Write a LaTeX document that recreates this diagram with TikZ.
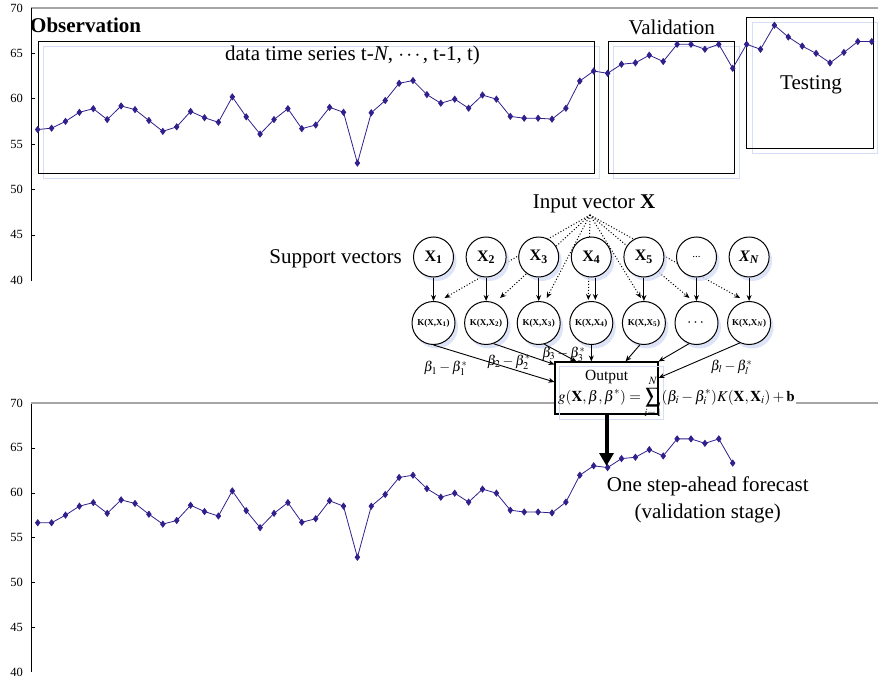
\documentclass[tikz,border=0pt]{standalone}
\usepackage{mathptmx}
\usepackage{amsmath}
\usepackage{fontspec}
\setmainfont{Liberation Serif}
\usetikzlibrary{positioning,shadows,plotmarks,arrows.meta}

\definecolor{serie}{RGB}{48,32,140}
\definecolor{halo}{RGB}{214,221,246}

\tikzset{
  sv/.style={circle,draw,fill=white,line width=1pt,minimum size=40pt,inner sep=0pt,
    drop shadow={fill=halo,opacity=.8,shadow xshift=3pt,shadow yshift=-4pt}},
  kv/.style={sv,minimum size=43pt,font=\fontsize{9}{9}\selectfont\bfseries},
  lbl/.style={inner sep=0pt,font=\fontsize{21}{26.6}\selectfont},
  ytick/.style={anchor=east,inner sep=0pt,font=\fontsize{12.5}{14}\selectfont},
  series/.style={serie,line width=.8pt,mark=diamond*,mark size=3pt,mark options={fill=serie}},
  dot/.style={dotted,->,line width=1pt},
}

\begin{document}
\begin{tikzpicture}[x=1pt,y=-1pt,>={Stealth[length=6pt,width=5pt]}]
\useasboundingbox (0,0) rectangle (878,679);

% upper chart
\draw[gray!70,line width=1.2pt] (31,8) -- (878,8);
\draw[line width=1pt] (31,8) -- (31,281);
\draw (31,53.4)--(35,53.4) (31,98.7)--(35,98.7) (31,144.1)--(35,144.1) (31,189.4)--(35,189.4) (31,234.8)--(35,234.8);
\node[ytick] (a70) at (23,8) {70};
\node[ytick] (a65) at (23,53.4) {65};
\node[ytick] (a60) at (23,98.7) {60};
\node[ytick] (a55) at (23,144.1) {55};
\node[ytick] (a50) at (23,189.4) {50};
\node[ytick] (a45) at (23,234.8) {45};
\node[ytick] (a40) at (23,280.1) {40};

\draw[halo] (43.3,46.7) rectangle (599.3,178) (613.3,46.7) rectangle (739.3,178) (751.7,22.3) rectangle (877.5,153.3);
\draw[line width=.8pt] (38.3,41.7) rectangle (594.3,173) (608.3,41.7) rectangle (734.3,173) (746.7,17.3) rectangle (873.3,148.3);
\node[lbl,anchor=base west] (obs) at (30,33) {\textbf{Observation}};
\node[lbl,anchor=base] (train) at (352.5,61) {data time series t-\textit{N}, $\cdots$, t-1, t)};
\node[lbl,anchor=base] (valid) at (671.7,35) {Validation};
\node[lbl,anchor=base] (test) at (811,90) {Testing};

\begin{scope}[x=13.9pt,y=9.07pt,shift={(23.8pt,-642.9pt)}]
\draw[series] plot coordinates {(1,56.6) (2,56.75) (3,57.5) (4,58.5) (5,58.9) (6,57.7) (7,59.2) (8,58.8) (9,57.6) (10,56.4)
 (11,56.9) (12,58.6) (13,57.9) (14,57.4) (15,60.2) (16,58.0) (17,56.1) (18,57.7) (19,58.9) (20,56.7)
 (21,57.1) (22,59.05) (23,58.5) (24,52.9) (25,58.45) (26,59.8) (27,61.7) (28,62.0) (29,60.45) (30,59.5)
 (31,59.95) (32,58.95) (33,60.4) (34,59.95) (35,58.05) (36,57.85) (37,57.85) (38,57.75) (39,58.95) (40,61.95)
 (41,63.05) (42,62.8) (43,63.8) (44,63.95) (45,64.8) (46,64.1) (47,66.0) (48,66.0) (49,65.45) (50,66.0)
 (51,63.35) (52,66.0) (53,65.45) (54,68.1) (55,66.8) (56,65.8) (57,65.0) (58,63.95) (59,65.1) (60,66.3) (61,66.3)};
\end{scope}

% lower chart
\coordinate (g70) at (31,403);
\draw[line width=1pt] (g70) -- (31,672);
\draw (31,447.9)--(35,447.9) (31,492.7)--(35,492.7) (31,537.6)--(35,537.6) (31,582.4)--(35,582.4) (31,627.3)--(35,627.3);
\node[ytick] (b70) at (23,403) {70};
\node[ytick] (b65) at (23,447.9) {65};
\node[ytick] (b60) at (23,492.7) {60};
\node[ytick] (b55) at (23,537.6) {55};
\node[ytick] (b50) at (23,582.4) {50};
\node[ytick] (b45) at (23,627.3) {45};
\node[ytick] (b40) at (23,672.1) {40};

\begin{scope}[x=13.9pt,y=8.97pt,shift={(23.8pt,-1030.9pt)}]
\draw[series] plot coordinates {(1,56.65) (2,56.65) (3,57.5) (4,58.5) (5,58.9) (6,57.7) (7,59.2) (8,58.8) (9,57.6) (10,56.5)
 (11,56.9) (12,58.6) (13,57.9) (14,57.4) (15,60.2) (16,58.0) (17,56.1) (18,57.7) (19,58.9) (20,56.7)
 (21,57.1) (22,59.1) (23,58.5) (24,52.8) (25,58.5) (26,59.8) (27,61.7) (28,61.95) (29,60.45) (30,59.5)
 (31,59.95) (32,58.95) (33,60.4) (34,59.95) (35,58.05) (36,57.85) (37,57.85) (38,57.75) (39,58.95) (40,61.95)
 (41,63.0) (42,62.8) (43,63.8) (44,63.95) (45,64.8) (46,64.1) (47,66.0) (48,66.0) (49,65.5) (50,66.0) (51,63.3)};
\end{scope}

% kernel layer
\node[kv] (K1) at (433.5,323) {K(X,X\textsubscript{1})};
\node[kv] (K2) at (486.1,323) {K(X,X\textsubscript{2})};
\node[kv] (K3) at (538.7,323) {K(X,X\textsubscript{3})};
\node[kv] (K4) at (591.3,323) {K(X,X\textsubscript{4})};
\node[kv] (K5) at (643.9,323) {K(X,X\textsubscript{5})};
\node[kv,font=\fontsize{16}{16}\selectfont\bfseries] (K6) at (696.5,323) {$\boldsymbol{\cdots}$};
\node[kv] (K7) at (749.1,323) {K(X,X\textsubscript{\textit{N}})};

\node[lbl,anchor=base] (invec) at (594,209) {Input vector \textbf{X}};
\coordinate (inp) at (590,215);
\draw[dot] (inp) -- ([xshift=11pt,yshift=3pt]K1.north);
\draw[dot] (inp) -- ([xshift=14pt,yshift=3pt]K2.north);
\draw[dot] (inp) -- ([xshift=8pt,yshift=3pt]K3.north);
\draw[dot] (inp) -- ([xshift=-3pt,yshift=1pt]K4.north);
\draw[dot] (inp) -- ([xshift=-3pt,yshift=3pt]K5.north);
\draw[dot] (inp) -- ([xshift=-7pt,yshift=3pt]K6.north);
\draw[dot] (inp) -- ([xshift=-9pt,yshift=3pt]K7.north);

% support vector layer
\node[sv,font=\fontsize{16}{16}\selectfont\bfseries] (X1) at (433.5,257) {X\textsubscript{1}};
\node[sv,font=\fontsize{16}{16}\selectfont\bfseries] (X2) at (486.1,257) {X\textsubscript{2}};
\node[sv,font=\fontsize{16}{16}\selectfont\bfseries] (X3) at (538.7,257) {X\textsubscript{3}};
\node[sv,font=\fontsize{16}{16}\selectfont\bfseries] (X4) at (591.3,257) {X\textsubscript{4}};
\node[sv,font=\fontsize{16}{16}\selectfont\bfseries] (X5) at (643.9,257) {X\textsubscript{5}};
\node[sv,font=\fontsize{11}{11}\selectfont] (X6) at (696.5,257) {...};
\node[sv,font=\fontsize{16}{16}\selectfont\bfseries\itshape] (X7) at (749.1,257) {X\textsubscript{N}};
\node[lbl,left=11pt of X1,yshift=-2pt] (supp) {Support vectors};

\draw[->,line width=.9pt] (X1) -- (K1);
\draw[->,line width=.9pt] (X2) -- (K2);
\draw[->,line width=.9pt] (X3) -- (K3);
\draw[->,line width=.9pt] ([xshift=4pt]X4.south) -- ([xshift=4pt,yshift=1pt]K4.north);
\draw[->,line width=.9pt] (X5) -- (K5);
\draw[->,line width=.9pt] (X6) -- (K6);
\draw[->,line width=.9pt] (X7) -- (K7);

% output unit
\node[draw,fill=white,line width=1.1pt,minimum width=103pt,minimum height=52pt] (Out) at (606.5,388) {};
\draw[halo] ([shift={(5pt,-5pt)}]Out.north west) rectangle ([shift={(5pt,-5pt)}]Out.south east);
\node[inner sep=0pt,font=\fontsize{15.5}{16}\selectfont] (outlbl) at (606.7,377) {Output};
\node[inner sep=1pt,anchor=base west,font=\fontsize{15}{16}\selectfont] (gfun) at (557,401)
  {$\displaystyle g(\mathbf{X},\beta,\beta^*)=\sum_{i=1}^{N}(\beta_i-\beta_i^*)K(\mathbf{X},\mathbf{X}_i)+\mathbf{b}$};
\draw[gray!70,line width=1.2pt] (g70) -- (g70 -| Out.west) (g70 -| gfun.east) -- (878,403);

\draw[->,line width=.9pt] (K1.south) -- ([yshift=6pt]Out.west)
  node[pos=.1,below=9pt,font=\fontsize{14}{14}\selectfont] (w1) {$\beta_1-\beta_1^*$};
\draw[->,line width=.9pt] (K2.-70) -- ([yshift=-3pt]Out.north west)
  node[pos=.25,below=2pt,font=\fontsize{14}{14}\selectfont] (w2) {$\beta_2-\beta_2^*$};
\draw[->,line width=.9pt] (K3.-75) -- ([xshift=22pt]Out.north west)
  node[pos=.6,font=\fontsize{14}{14}\selectfont] (w3) {$\beta_3-\beta_3^*$};
\draw[->,line width=.9pt] (K4.south) -- (K4.south |- Out.north);
\draw[->,line width=.9pt] (K5.-100) -- ([xshift=-33pt]Out.north east);
\draw[->,line width=.9pt] (K6.-110) -- (Out.north east);
\draw[->,line width=.9pt] (K7.-115) -- ([yshift=10pt]Out.east)
  node[pos=.1,below=10pt,font=\fontsize{14}{14}\selectfont] (wl) {$\beta_l-\beta_l^*$};

\coordinate (fc) at (606.5,466);
\draw[line width=4pt,-{Triangle[length=13pt,width=14pt]}] (Out.south) -- (fc);
\node[lbl,align=center] (fcast) at (707.7,500) {One step-ahead forecast\\(validation stage)};
\end{tikzpicture}
\end{document}
